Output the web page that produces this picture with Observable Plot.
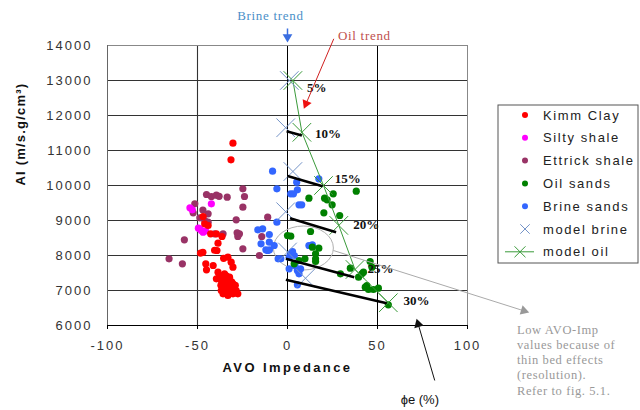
<!DOCTYPE html>
<html><head><meta charset="utf-8">
<script src="https://cdn.jsdelivr.net/npm/d3@7"></script>
<script src="https://cdn.jsdelivr.net/npm/@observablehq/plot@0.6"></script>
<style>
body{margin:0;background:#fff;}
#chart svg{display:block;}
g[aria-label="x-axis tick label"] text, g[aria-label="y-axis tick label"] text{letter-spacing:2px;}
</style></head><body><div id="chart"></div>
<script>
// ---- data ----
const xTicks = [-100, -50, 0, 50, 100];
const yTicks = [6000, 7000, 8000, 9000, 10000, 11000, 12000, 13000, 14000];
const yGridLines = [7000, 8000, 9000, 10000, 11000, 12000, 13000];
const xGridGrey = [-50];
const xGridDark = [0, 50];

const legendLabels = ["Kimm Clay", "Silty shale", "Ettrick shale", "Oil sands", "Brine sands", "model brine", "model oil"];

const kimmClay = [
  [-30.3,11209],[-31.4,10734],[-46.9,9114],[-46,8906],[-44.1,8857],[-42.7,8620],[-39.5,8620],[-36.4,8543],
  [-38.6,8351],[-39.2,8143],[-40.5,8150],[-48.3,8066],[-47,8090],[-33.1,7951],[-31.3,7809],[-45.4,7763],
  [-41.3,7714],[-45,7591],[-30.3,7666],[-35.5,7920],
  [-38.6,7523],[-37.7,7429],[-35.8,7380],[-39.5,7334],[-36.8,7286],[-34,7237],[-32.2,7286],[-30.3,7191],
  [-33.1,7143],[-35,7094],[-31.3,7094],[-29.4,7049],[-34,7000],[-32.2,6951],[-35.8,6906],[-28.5,7000],
  [-32.2,7380],[-35,7477],[-36.8,7000],[-30.3,6906],[-33.1,6857],[-27.6,6906],[-31,7250],[-29,7150],
  [-33.5,7320],[-37,7150],[-30,7000],[-34,7420]
];
const siltyShale = [[-54.2,9363],[-52.9,9306],[-42.3,9477],[-48.7,8763],[-46.9,8666],[-47.8,8714],[-49.5,8780],[-45.5,8700]];
const ettrickShale = [
  [-45,9743],[-42.3,9686],[-39.5,9723],[-38,9690],[-33.5,9666],[-24.8,9906],[-23.9,9686],[-24.8,9380],
  [-51.5,9477],[-52.4,9220],[-44.1,9191],[-48.7,9077],[-46,9000],[-44.1,8951],[-28.5,9020],[-26.7,8620],
  [-27.6,8543],[-28,8650],[-57.3,8449],[-35.8,8620],[-40.5,8620],[-11,9094],[-14.3,8543],[-15.6,8000],
  [-24.8,8191],[-65.8,7906],[-58.4,7763],[-47,9300]
];
const oilSands = [
  [11.9,9637],[20.6,9637],[22,9591],[24.8,9449],[25.4,9763],[38.2,9837],[20.2,9220],[29,9143],
  [0,8571],[1.8,8551],[12.8,8686],[13.8,8237],[17.4,8209],[15.6,8049],[9.7,7906],[15.6,7906],[15.6,7829],
  [3.7,7763],[6.4,7857],
  [34.9,7637],[41.3,7477],[42.2,7523],[39.5,7380],[45.9,7829],[46.9,7666],[43.2,7094],[45,7029],[47.7,7029],
  [50.5,7066],[56,6591],[29.4,7477],[44.1,7143]
];
const brineSands = [
  [-8.3,10409],[-5.9,9906],[1.8,9763],[5.5,9877],[5.1,10094],[3.3,9763],[6.4,9449],[7.9,9449],[17.4,10191],
  [-5.9,8952],[-16.5,8734],[-13.8,8763],[-10.1,8600],[-14.7,8334],[-12,8163],[-10,8163],[-7.4,8286],
  [-5.2,7906],[-10.1,8380],[-11,8143],
  [2.8,8114],[1.8,8049],[0.9,7951],[-3.7,7906],[13.8,8306],[11.9,8286],[0.9,7620],[5.5,7571],[7.3,7620],
  [6.4,7477],[5.5,7163],[4.2,7714],[3.8,8000]
];
const modelBrine = [[1,13000],[-1,11650],[3,10400],[-1,9250],[0,8100],[10,7350]];
const modelOil = [[3,13000],[8,11520],[20,10000],[28.5,8860],[37.5,7600],[56,6650]];

const porosityLabels = ["5%", "10%", "15%", "20%", "25%", "30%"];
const porosityLabelX = [16.3, 22.5, 33.5, 43.7, 51.7, 71.7];
const porosityLabelY = [12791, 11477, 10191, 8886, 7620, 6714];
// black porosity tie lines: [x1, y1, x2, y2]
const porosityTies = [
  [-0.5,11550, 8,11430],
  [0,10270, 19.5,9980],
  [1.4,9066, 27,8666],
  [-0.9,7906, 37.1,7380],
  [-0.9,7306, 55.1,6637]
];
const thinBedCenter = [9.1, 8200];

// annotations (data units)
const brineTrendText = ["Brine trend"]; const brineTrendAt = [-9.5, 14837];
const brineArrow = [0,14486, 0,14229]; const brineHead = [0,14243];
const oilTrendText = ["Oil trend"]; const oilTrendAt = [42.7, 14266];
const oilArrow = [25.7,14191, 10.3,12337]; const oilHead = [10.3,12337];
const phiText = ["ϕe (%)"]; const phiAt = [73.5, 3886];
const phiArrow = [81.8,4429, 72.6,6040]; const phiHead = [72.6,6040];
const noteText = ["Low AVO-Imp\nvalues because of\nthin bed effects\n(resolution).\nRefer to fig. 5.1."];
const noteAt = [127.5, 5034];
const noteArrow = [25.5,8143, 131.3,6420]; const noteHead = [131.3,6420];
const xTitle = "AVO Impedance";
const yTitle = "AI (m/s.g/cm³)";

// ---- styles ----
const colors = {kimm:"#ff0000", silty:"#ff00ff", ettrick:"#993366", oil:"#008000", brine:"#3366ff", mbrine:"#7594c8", moil:"#3a9a3a"};
const legendColors = [colors.kimm, colors.silty, colors.ettrick, colors.oil, colors.brine, colors.mbrine, colors.moil];
const X = d => d[0], Y = d => d[1];
const seg = a => ({x1:a[0], y1:a[1], x2:a[2], y2:a[3]});
const serif = "'Liberation Serif', 'Times New Roman', serif";

function dots(data, fill) {
  return Plot.dot(data, {x: X, y: Y, r: 3.6, fill, stroke: "none"});
}
function head(pt, fill, rotate) {
  return Plot.dot([pt], {x: X, y: Y, symbol: "triangle", r: 3.6, fill, stroke: "none", rotate});
}
function arrowLine(a, stroke, strokeWidth) {
  return Plot.link([seg(a)], {x1: "x1", y1: "y1", x2: "x2", y2: "y2", stroke, strokeWidth});
}

const legendMark = () => {
  const g = d3.create("svg:g").attr("class", "legend");
  g.append("rect").attr("x", 498).attr("y", 105).attr("width", 140).attr("height", 158)
    .attr("fill", "#fff").attr("stroke", "#555").attr("stroke-width", 1);
  legendLabels.forEach((name, i) => {
    const cy = 115 + i * 22.8;
    const c = legendColors[i];
    if (i < 5) {
      g.append("circle").attr("cx", 525).attr("cy", cy).attr("r", 3).attr("fill", c);
    } else if (i === 5) {
      g.append("path").attr("transform", `translate(525,${cy})`)
        .attr("d", d3.symbol(d3.symbolTimes, 60)()).attr("fill", "none").attr("stroke", c).attr("stroke-width", 1);
    } else {
      g.append("line").attr("x1", 505).attr("x2", 534).attr("y1", cy).attr("y2", cy).attr("stroke", c).attr("stroke-width", 1);
      g.append("path").attr("transform", `translate(520,${cy})`)
        .attr("d", d3.symbol(d3.symbolTimes, 80)()).attr("fill", "none").attr("stroke", c).attr("stroke-width", 1);
    }
    g.append("text").attr("x", 543).attr("y", cy).attr("dy", "0.35em").attr("text-anchor", "start")
      .attr("font-size", 13).attr("fill", "#222").style("letter-spacing", "1.6px").text(name);
  });
  return g.node();
};

const ellipseMark = (index, scales) => d3.create("svg:ellipse")
  .attr("cx", scales.x(thinBedCenter[0])).attr("cy", scales.y(thinBedCenter[1]))
  .attr("rx", 30).attr("ry", 22).attr("fill", "none").attr("stroke", "#b0b0b0").attr("stroke-width", 1).node();

const plot = Plot.plot({
  width: 640, height: 410,
  marginLeft: 107, marginRight: 173, marginTop: 45, marginBottom: 85,
  style: {fontFamily: "'Liberation Sans', Arial, sans-serif", fontSize: "13px", color: "#333", background: "#fff", overflow: "visible"},
  x: {domain: [-100, 100], label: null},
  y: {domain: [6000, 14000], label: null},
  marks: [
    Plot.ruleY(yGridLines, {stroke: "#333", strokeWidth: 1.1}),
    Plot.ruleX(xGridGrey, {stroke: "#333", strokeWidth: 1.1}),
    Plot.ruleX(xGridDark, {stroke: "#000", strokeWidth: 1}),
    Plot.ruleY([14000], {stroke: "#888"}),
    Plot.ruleX([100], {stroke: "#888"}),
    Plot.ruleX([-100], {stroke: "#666"}),
    Plot.ruleY([6000], {stroke: "#000"}),
    Plot.axisX({ticks: xTicks, tickSize: 4, tickPadding: 11, tickFormat: d => String(d), label: null, stroke: "#000"}),
    Plot.axisY({ticks: yTicks, tickSize: 0, tickPadding: 15, tickFormat: d => String(d), label: null}),
    ellipseMark,
    dots(ettrickShale, colors.ettrick),
    dots(siltyShale, colors.silty),
    dots(kimmClay, colors.kimm),
    dots(brineSands, colors.brine),
    dots(oilSands, colors.oil),
    Plot.line(modelOil, {x: X, y: Y, stroke: colors.moil, strokeWidth: 1}),
    Plot.dot(modelBrine, {x: X, y: Y, symbol: "times", r: 8.5, stroke: colors.mbrine, strokeWidth: 1, fill: "none"}),
    Plot.dot(modelOil, {x: X, y: Y, symbol: "times", r: 8.5, stroke: colors.moil, strokeWidth: 1, fill: "none"}),
    Plot.link(porosityTies.map(seg), {x1: "x1", y1: "y1", x2: "x2", y2: "y2", stroke: "#000", strokeWidth: 2.5}),
    Plot.text(porosityLabels, {x: (d, i) => porosityLabelX[i], y: (d, i) => porosityLabelY[i], text: d => d,
      fontFamily: serif, fontWeight: "bold", fontSize: 13, fill: "#111"}),
    // annotations
    arrowLine(brineArrow, "#3a6ee0", 1.5),
    head(brineHead, "#3a6ee0", 180),
    Plot.text(brineTrendText, {x: () => brineTrendAt[0], y: () => brineTrendAt[1], fill: "#4b8fc8", fontSize: 13, fontFamily: serif}),
    arrowLine(oilArrow, "#d02020", 1),
    head(oilHead, "#ee1111", 203),
    Plot.text(oilTrendText, {x: () => oilTrendAt[0], y: () => oilTrendAt[1], fill: "#c0504d", fontSize: 13, fontFamily: serif}),
    arrowLine(noteArrow, "#aaa", 1),
    head(noteHead, "#999", 107),
    Plot.text(noteText, {x: () => noteAt[0], y: () => noteAt[1], textAnchor: "start", fill: "#999", fontSize: 12.5,
      lineHeight: 1.22, fontFamily: serif}),
    arrowLine(phiArrow, "#111", 1),
    head(phiHead, "#111", -16.5),
    Plot.text(phiText, {x: () => phiAt[0], y: () => phiAt[1], fill: "#111", fontSize: 13}),
    // axis titles
    Plot.text([xTitle], {frameAnchor: "bottom", dy: 46, fontWeight: "bold", fontSize: 13, fill: "#111"}),
    Plot.text([yTitle], {frameAnchor: "left", dx: -87, rotate: -90, fontWeight: "bold", fontSize: 13, fill: "#111"}),
    legendMark
  ]
});

// letter spacing tweaks (by text content)
const spacing = new Map([
  [xTitle, "2.4px"], [yTitle, "1.2px"],
  [brineTrendText[0], "0.7px"], [oilTrendText[0], "0.7px"]
]);
d3.select(plot).selectAll("text").each(function () {
  const s = spacing.get(this.textContent);
  if (s) d3.select(this).style("letter-spacing", s);
});
d3.select(plot).selectAll("tspan").each(function () {
  if (noteText[0].includes(this.textContent)) d3.select(this).style("letter-spacing", "0.6px");
});
document.getElementById("chart").append(plot);
</script></body></html>
